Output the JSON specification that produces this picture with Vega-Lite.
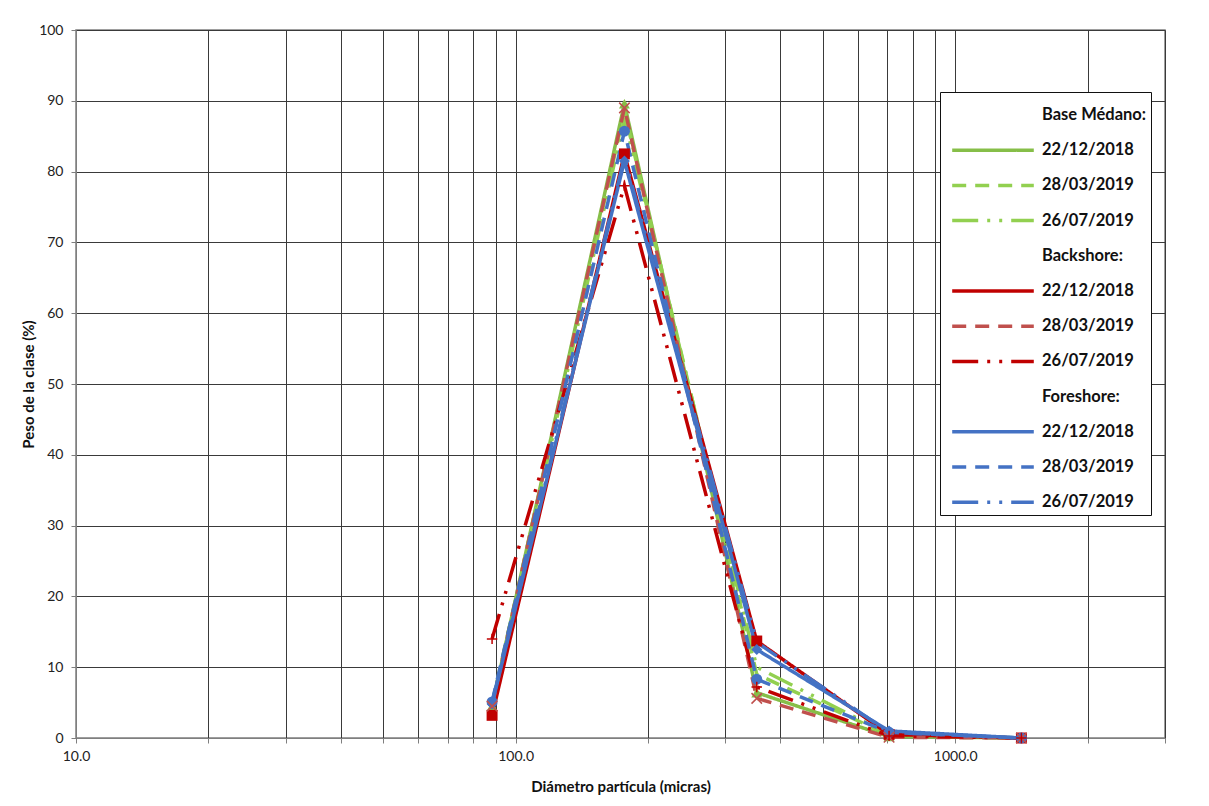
{
  "$schema": "https://vega.github.io/schema/vega-lite/v6.json",
  "autosize": {"type": "none"},
  "width": 1089,
  "height": 708,
  "padding": {"left": 76, "top": 30, "right": 44, "bottom": 68},
  "background": "white",
  "config": {
    "font": "Lato",
    "view": {"stroke": "#7f7f7f", "strokeWidth": 1.5},
    "axis": {
      "labelFont": "Lato", "labelFontSize": 14, "labelColor": "#222",
      "titleFont": "Lato", "titleFontSize": 15, "titleFontWeight": "bold", "titleColor": "#111",
      "gridColor": "#3a3a3a", "gridWidth": 1, "gridOpacity": 1,
      "domainColor": "#7f7f7f", "tickColor": "#7f7f7f", "tickSize": 5
    }
  },
  "resolve": {"scale": {"shape": "independent"}},
  "data": {"values": [
    {"s": "Base Médano: 22/12/2018", "d": 88.4, "p": 4.5},
    {"s": "Base Médano: 22/12/2018", "d": 176.8, "p": 89.6},
    {"s": "Base Médano: 22/12/2018", "d": 353.6, "p": 6.4},
    {"s": "Base Médano: 22/12/2018", "d": 707.1, "p": 0.2},
    {"s": "Base Médano: 22/12/2018", "d": 1414.2, "p": 0},
    {"s": "Base Médano: 28/03/2019", "d": 88.4, "p": 4.8},
    {"s": "Base Médano: 28/03/2019", "d": 176.8, "p": 88.5},
    {"s": "Base Médano: 28/03/2019", "d": 353.6, "p": 9.0},
    {"s": "Base Médano: 28/03/2019", "d": 707.1, "p": 0.4},
    {"s": "Base Médano: 28/03/2019", "d": 1414.2, "p": 0},
    {"s": "Base Médano: 26/07/2019", "d": 88.4, "p": 4.6},
    {"s": "Base Médano: 26/07/2019", "d": 176.8, "p": 87.5},
    {"s": "Base Médano: 26/07/2019", "d": 353.6, "p": 10.0},
    {"s": "Base Médano: 26/07/2019", "d": 707.1, "p": 0.5},
    {"s": "Base Médano: 26/07/2019", "d": 1414.2, "p": 0},
    {"s": "Backshore: 22/12/2018", "d": 88.4, "p": 3.2},
    {"s": "Backshore: 22/12/2018", "d": 176.8, "p": 82.5},
    {"s": "Backshore: 22/12/2018", "d": 353.6, "p": 13.7},
    {"s": "Backshore: 22/12/2018", "d": 707.1, "p": 0.5},
    {"s": "Backshore: 22/12/2018", "d": 1414.2, "p": 0},
    {"s": "Backshore: 28/03/2019", "d": 88.4, "p": 4.5},
    {"s": "Backshore: 28/03/2019", "d": 176.8, "p": 89.0},
    {"s": "Backshore: 28/03/2019", "d": 353.6, "p": 5.6},
    {"s": "Backshore: 28/03/2019", "d": 707.1, "p": 0.1},
    {"s": "Backshore: 28/03/2019", "d": 1414.2, "p": 0},
    {"s": "Backshore: 26/07/2019", "d": 88.4, "p": 14.0},
    {"s": "Backshore: 26/07/2019", "d": 176.8, "p": 78.0},
    {"s": "Backshore: 26/07/2019", "d": 353.6, "p": 7.2},
    {"s": "Backshore: 26/07/2019", "d": 707.1, "p": 0.3},
    {"s": "Backshore: 26/07/2019", "d": 1414.2, "p": 0},
    {"s": "Foreshore: 22/12/2018", "d": 88.4, "p": 4.8},
    {"s": "Foreshore: 22/12/2018", "d": 176.8, "p": 81.5},
    {"s": "Foreshore: 22/12/2018", "d": 353.6, "p": 12.5},
    {"s": "Foreshore: 22/12/2018", "d": 707.1, "p": 1.0},
    {"s": "Foreshore: 22/12/2018", "d": 1414.2, "p": 0},
    {"s": "Foreshore: 28/03/2019", "d": 88.4, "p": 5.1},
    {"s": "Foreshore: 28/03/2019", "d": 176.8, "p": 85.7},
    {"s": "Foreshore: 28/03/2019", "d": 353.6, "p": 8.3},
    {"s": "Foreshore: 28/03/2019", "d": 707.1, "p": 0.8},
    {"s": "Foreshore: 28/03/2019", "d": 1414.2, "p": 0},
    {"s": "Foreshore: 26/07/2019", "d": 88.4, "p": 5.0},
    {"s": "Foreshore: 26/07/2019", "d": 176.8, "p": 82.0},
    {"s": "Foreshore: 26/07/2019", "d": 353.6, "p": 13.5},
    {"s": "Foreshore: 26/07/2019", "d": 707.1, "p": 0.8},
    {"s": "Foreshore: 26/07/2019", "d": 1414.2, "p": 0}
  ]},
  "encoding": {
    "x": {
      "field": "d", "type": "quantitative",
      "scale": {"type": "log", "domain": [10, 3000], "nice": false},
      "axis": {
        "title": "Diámetro partícula (micras)",
        "values": [10, 20, 30, 40, 50, 60, 70, 80, 90, 100, 200, 300, 400, 500, 600, 700, 800, 900, 1000, 2000, 3000],
        "labelExpr": "(datum.value == 10 || datum.value == 100 || datum.value == 1000) ? format(datum.value, '.1f') : ''",
        "labelPadding": 6, "titlePadding": 16, "labelFlush": false
      }
    },
    "y": {
      "field": "p", "type": "quantitative",
      "scale": {"domain": [0, 100], "nice": false},
      "axis": {"title": "Peso de la clase (%)", "values": [0, 10, 20, 30, 40, 50, 60, 70, 80, 90, 100], "labelPadding": 8, "titlePadding": 2}
    }
  },
  "layer": [
    {
      "mark": {"type": "line", "strokeWidth": 3.5, "strokeCap": "butt"},
      "encoding": {
        "color": {
          "field": "s", "type": "nominal",
          "scale": {
            "domain": ["Base Médano:", "Base Médano: 22/12/2018", "Base Médano: 28/03/2019", "Base Médano: 26/07/2019",
                       "Backshore:", "Backshore: 22/12/2018", "Backshore: 28/03/2019", "Backshore: 26/07/2019",
                       "Foreshore:", "Foreshore: 22/12/2018", "Foreshore: 28/03/2019", "Foreshore: 26/07/2019"],
            "range": ["transparent", "#86BE48", "#92D050", "#92D050",
                      "transparent", "#C00000", "#C0504D", "#C00000",
                      "transparent", "#4472C4", "#4472C4", "#4472C4"]
          },
          "legend": {
            "title": null, "orient": "none", "legendX": 864, "legendY": 62,
            "symbolType": "M-2.4,0L2.4,0", "symbolSize": 1156, "symbolStrokeWidth": 3.5,
            "symbolOffset": 30, "labelOffset": 30,
            "labelFont": "Lato", "labelFontSize": 16.5, "labelFontWeight": "bold", "labelColor": "#111",
            "labelLimit": 200,
            "rowPadding": 7.2, "padding": 4,
            "strokeColor": "#111", "fillColor": "white",
            "labelExpr": "indexof(datum.label, ': ') > 0 ? split(datum.label, ': ')[1] : datum.label"
          }
        },
        "strokeDash": {
          "field": "s", "type": "nominal",
          "scale": {
            "domain": ["Base Médano:", "Base Médano: 22/12/2018", "Base Médano: 28/03/2019", "Base Médano: 26/07/2019",
                       "Backshore:", "Backshore: 22/12/2018", "Backshore: 28/03/2019", "Backshore: 26/07/2019",
                       "Foreshore:", "Foreshore: 22/12/2018", "Foreshore: 28/03/2019", "Foreshore: 26/07/2019"],
            "range": [[1, 0], [1, 0], [14, 9], [26, 9, 3, 9, 3, 9],
                      [1, 0], [1, 0], [14, 9], [26, 9, 3, 9, 3, 9],
                      [1, 0], [1, 0], [14, 9], [26, 9, 3, 9, 3, 9]]
          },
          "legend": {
            "title": null, "orient": "none", "legendX": 864, "legendY": 62,
            "symbolType": "M-2.4,0L2.4,0", "symbolSize": 1156, "symbolStrokeWidth": 3.5,
            "symbolOffset": 30, "labelOffset": 30,
            "labelFont": "Lato", "labelFontSize": 16.5, "labelFontWeight": "bold", "labelColor": "#111",
            "labelLimit": 200,
            "rowPadding": 7.2, "padding": 4,
            "strokeColor": "#111", "fillColor": "white",
            "labelExpr": "indexof(datum.label, ': ') > 0 ? split(datum.label, ': ')[1] : datum.label"
          }
        },
        "order": {"field": "d", "type": "quantitative"}
      }
    },
    {
      "transform": [{"filter": {"field": "s", "oneOf": ["Base Médano: 22/12/2018", "Backshore: 22/12/2018", "Foreshore: 22/12/2018", "Foreshore: 28/03/2019"]}}],
      "mark": {"type": "point", "filled": true, "opacity": 1, "size": 120},
      "encoding": {
        "color": {"field": "s", "type": "nominal", "legend": null},
        "shape": {
          "field": "s", "type": "nominal", "legend": null,
          "scale": {"domain": ["Base Médano: 22/12/2018", "Backshore: 22/12/2018", "Foreshore: 22/12/2018", "Foreshore: 28/03/2019"],
                    "range": ["triangle-up", "square", "diamond", "circle"]}
        }
      }
    },
    {
      "transform": [{"filter": {"field": "s", "oneOf": ["Backshore: 28/03/2019", "Backshore: 26/07/2019"]}}],
      "mark": {"type": "point", "filled": false, "opacity": 1, "size": 110, "strokeWidth": 1.5},
      "encoding": {
        "color": {"field": "s", "type": "nominal", "legend": null},
        "shape": {
          "field": "s", "type": "nominal", "legend": null,
          "scale": {"domain": ["Backshore: 28/03/2019", "Backshore: 26/07/2019"],
                    "range": ["M-1,-1L1,1M1,-1L-1,1", "M0,-1L0,1M-1,0L1,0"]}
        }
      }
    }
  ]
}
